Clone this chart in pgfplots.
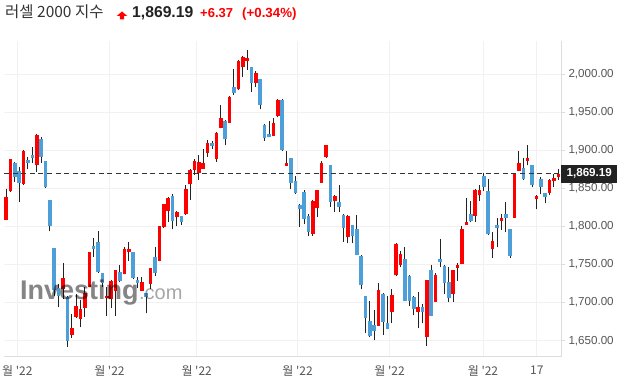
\documentclass[border=0pt]{standalone}
\usepackage{pgfplots}
\usepackage{pgfplotstable}
\usepackage{fontspec}
\setmainfont{Liberation Sans}
\newfontfamily\cjk{Noto Sans CJK KR}
\pgfplotsset{compat=1.18}
\definecolor{upred}{HTML}{FF0000}
\definecolor{dnblue}{HTML}{4C9FD9}
\definecolor{wick}{HTML}{222222}
\definecolor{gridc}{HTML}{F1F1F1}
\definecolor{axc}{HTML}{DDDDDD}
\definecolor{lbl}{HTML}{555555}
\definecolor{ttl}{HTML}{333333}

% up (red) candles: index, open, high, low, close
\pgfplotstableread{
i o h l c
0 1809 1849 1808 1838
1 1846 1889 1845 1888
4 1855.6 1900 1854 1898.6
7 1881 1921 1872 1920
13 1717.5 1751.6 1705 1732.3
15 1657.5 1684.7 1653 1666.7
16 1681.5 1711.3 1680 1695.5
17 1679 1703.4 1667.6 1691.6
18 1693.3 1720.9 1681.5 1713
19 1720.9 1767 1720 1766
23 1705.7 1720.9 1682.4 1708.7
24 1704.8 1729 1692.5 1728.4
25 1715.6 1743 1682.8 1742.8
27 1737.5 1773.4 1737 1770
28 1766.4 1780 1755 1770
31 1715.6 1733 1715 1726.6
33 1724.4 1746 1718.2 1745
35 1755 1801 1754 1800.5
36 1798.8 1830 1798 1829.4
37 1820.6 1838 1806.2 1837.3
39 1812 1820 1800.5 1819.3
41 1815.9 1854.3 1815 1849.1
42 1855.2 1875 1834.7 1874
43 1874 1888.8 1867.8 1885.4
44 1870.5 1893.7 1860.9 1884.1
45 1875.7 1901.6 1875 1882.8
46 1896 1913.4 1891.5 1909.1
48 1888 1923.9 1884.9 1922.2
49 1929.5 1958.9 1929 1942.3
51 1936.1 1971.1 1936 1969.4
53 1979.9 2018 1979 2016.7
54 2008.8 2023 1995.7 2021.9
55 2017.5 2031.5 2005.2 2020.6
57 1988.6 2003.5 1983.3 2000.9
61 1918.6 1941.9 1918 1935.3
62 1944.9 1967 1943.2 1965.9
64 1879.7 1898.6 1879 1882.8
70 1790.4 1834 1788 1833
71 1824.5 1848 1812.3 1847.4
72 1857.4 1885.8 1857 1882.8
73 1890.7 1907 1890 1906.4
75 1833.3 1841.2 1819.3 1839.9
78 1786.5 1815 1777.8 1813.7
85 1669.7 1725.3 1669 1716.5
88 1688.1 1717.5 1672.8 1709.9
89 1736.2 1778 1735 1776.9
90 1749.8 1768.1 1746.3 1763.8
94 1687.7 1714.3 1666.3 1694.2
96 1655.3 1730 1643 1729.7
98 1701.2 1739.2 1701 1736.2
102 1710.9 1743 1701.2 1742.8
103 1745.8 1751.6 1728.4 1749.4
104 1750.3 1800.5 1750 1796.6
105 1802.2 1836.9 1802 1805.8
107 1813.3 1848.7 1806.2 1847.8
108 1840.8 1854.7 1833.7 1847.8
111 1770 1792.3 1759 1780.9
113 1807.5 1816.3 1795.3 1811.4
116 1811.4 1869 1811 1868.4
117 1873.1 1899.3 1873 1882.8
119 1886.2 1906.4 1880.2 1889.4
121 1836.4 1841 1822.8 1839.9
124 1844.2 1862.6 1840.8 1860.9
125 1859.6 1868.8 1852.1 1863.9
126 1864.4 1875 1860.9 1869.19
}\upc

% down (blue) candles: index, open, high, low, close
\pgfplotstableread{
i o h l c
2 1882.8 1884.5 1858.3 1865.2
3 1872.7 1878.4 1832 1856.6
5 1887.5 1890.7 1875 1883.6
6 1894 1903.8 1882.8 1890
8 1914.7 1917.7 1883.6 1891.5
9 1885.8 1886 1850.4 1852.1
10 1834.7 1835 1793.6 1801
11 1771.7 1772 1709 1716.5
12 1718.8 1724 1693.8 1708.7
14 1707.8 1708 1642 1650
20 1774.7 1784.4 1760.2 1770.4
21 1779.5 1794 1739 1739.8
22 1738.5 1739 1720 1725.7
26 1740.2 1749.4 1727 1728.8
29 1766.4 1767 1730.6 1731.9
30 1729.7 1733.2 1719.6 1726.1
32 1712.2 1713 1686 1707.8
34 1760.2 1773.4 1734.9 1739.2
38 1840.3 1842.5 1796 1807.5
40 1813.7 1814 1801.8 1806.2
47 1909.1 1912.1 1901.2 1905.5
50 1938.3 1939 1906.4 1914.3
52 1982.5 2006.2 1972.8 1975.5
56 2008.8 2009 1976.8 1987.8
58 1993 1994 1953.7 1958.9
59 1932.7 1934.4 1912.5 1916.4
60 1920.9 1938.3 1917 1917.7
63 1965.9 1967 1899 1900.3
65 1889.8 1890 1848.7 1856.6
66 1859.2 1866.1 1843 1844.2
67 1828.1 1829 1799.6 1823.2
68 1844.8 1847.4 1802.8 1810.1
69 1813.7 1816.3 1787.8 1793.1
74 1880.2 1881 1825.9 1832.4
76 1832 1854.3 1819.3 1825.9
77 1815 1816 1780 1798.3
79 1801.8 1802 1777.8 1787.8
80 1796.6 1815 1762 1762.9
81 1761.2 1762 1717.5 1723.1
82 1708.7 1709 1659.7 1680.2
83 1675.9 1701.7 1654.5 1656.6
84 1670.6 1690.3 1650.9 1663.1
86 1711.3 1712 1657.5 1674.5
87 1673.2 1708.7 1665 1665.8
91 1756.8 1772.6 1702 1702.5
92 1735.3 1736 1695.5 1702.5
93 1707 1708 1683.3 1692
95 1693.8 1698.2 1672.8 1687.7
97 1742.8 1749.4 1682 1682.8
99 1757.2 1783.5 1746.3 1753.7
100 1748 1749 1711.3 1725.3
101 1727 1747.1 1701.2 1705.7
106 1816.3 1833.3 1805.4 1807.5
109 1866.1 1870.5 1846.9 1852.1
110 1846.5 1861.8 1789 1789.6
112 1801.8 1810.6 1772.6 1798.3
114 1816.3 1832.4 1792.3 1810.6
115 1796.6 1797 1758 1761.6
118 1876.2 1889.4 1861 1861.8
120 1880.6 1881 1851.3 1853.9
122 1861.8 1865.2 1842.5 1851.3
123 1843.8 1844 1830.3 1838.2
}\dnc

\pgfplotsset{candle/.style={only marks, mark=*, mark size=0pt,
  mark options={draw=none, fill=none}}}

\begin{document}
\begin{tikzpicture}
\useasboundingbox (0,0) rectangle (623bp,382bp);
\begin{axis}[
  at={(4bp,25bp)}, anchor=south west,
  width=557bp, height=316bp, scale only axis,
  xmin=-0.46, xmax=126.6, ymin=1628.6, ymax=2043.3,
  axis x line*=bottom, axis y line*=right,
  axis line style={axc, line width=1bp},
  grid=major, major grid style={gridc, line width=0.9bp},
  xtick={2.58,23.6,43.5,66.5,87.5,108.8,121.1},
  xticklabels={월 \textquotesingle22,월 \textquotesingle22,월 \textquotesingle22,월 \textquotesingle22,월 \textquotesingle22,월 \textquotesingle22,17},
  x tick label style={font=\cjk\fontsize{12bp}{14bp}\selectfont, text=lbl, yshift=-1bp},
  xtick style={draw=none},
  ytick={1650,1700,1750,1800,1850,1900,1950,2000},
  scaled y ticks=false,
  tick align=outside, major tick length=4bp,
  ytick style={axc, line width=0.9bp},
  y tick label style={font=\fontsize{11.6bp}{13bp}\selectfont, text=lbl,
    /pgf/number format/.cd, fixed, fixed zerofill, precision=2, 1000 sep={,}, assume math mode=true},
  clip=true,
]
% wicks
\addplot [candle, error bars/.cd, y dir=plus, y explicit, error mark=none,
  error bar style={draw=wick, line width=1bp}]
  table [x=i, y=l, y error plus expr=\thisrow{h}-\thisrow{l}] {\upc};
\addplot [candle, error bars/.cd, y dir=plus, y explicit, error mark=none,
  error bar style={draw=wick, line width=1bp}]
  table [x=i, y=l, y error plus expr=\thisrow{h}-\thisrow{l}] {\dnc};
% bodies
\addplot [candle, error bars/.cd, y dir=plus, y explicit, error mark=none,
  error bar style={draw=upred, line width=3.6bp}]
  table [x=i, y=o, y error plus expr=\thisrow{c}-\thisrow{o}] {\upc};
\addplot [candle, error bars/.cd, y dir=plus, y explicit, error mark=none,
  error bar style={draw=dnblue, line width=3.6bp}]
  table [x=i, y=c, y error plus expr=\thisrow{o}-\thisrow{c}] {\dnc};
% last price line
\addplot [color=ttl, line width=1.1bp, dash pattern=on 5bp off 3.6bp] coordinates {(-0.46,1869.19) (126.6,1869.19)};
\coordinate (pl) at (axis cs:126.6,1869.19);
\end{axis}
% price box
\node [anchor=west, fill=wick, text=white, minimum width=56bp, minimum height=18bp, inner sep=0pt,
  font=\bfseries\fontsize{11.6bp}{13bp}\selectfont] at (pl) {1,869.19};
% watermark
\node (wm) [anchor=base west, inner sep=0pt, text=black, text opacity=0.48,
  font=\bfseries\fontsize{27bp}{30bp}\selectfont] at (20bp,82bp) {Investing};
\node [anchor=base west, inner sep=0pt, text=black, text opacity=0.35,
  font=\fontsize{20bp}{24bp}\selectfont] at (wm.base east) {.com};
% title
\node [anchor=base west, inner sep=0pt, text=ttl, font=\cjk\fontsize{15.5bp}{18bp}\selectfont] at (5bp,364.5bp) {러셀 2000 지수};
\fill [upred] (122bp,370.5bp) -- (127.3bp,366bp) -- (124.2bp,366bp) -- (124.2bp,362.7bp) -- (119.8bp,362.7bp) -- (119.8bp,366bp) -- (116.7bp,366bp) -- cycle;
\node [anchor=base west, inner sep=0pt, text=wick, font=\bfseries\fontsize{15.7bp}{18bp}\selectfont] at (132bp,364.5bp) {1,869.19};
\node [anchor=base west, inner sep=0pt, text=upred, font=\bfseries\fontsize{13bp}{16bp}\selectfont] at (200bp,364.5bp) {+6.37};
\node [anchor=base west, inner sep=0pt, text=upred, font=\bfseries\fontsize{13.3bp}{16bp}\selectfont] at (242bp,364.5bp) {(+0.34\%)};
\end{tikzpicture}
\end{document}
